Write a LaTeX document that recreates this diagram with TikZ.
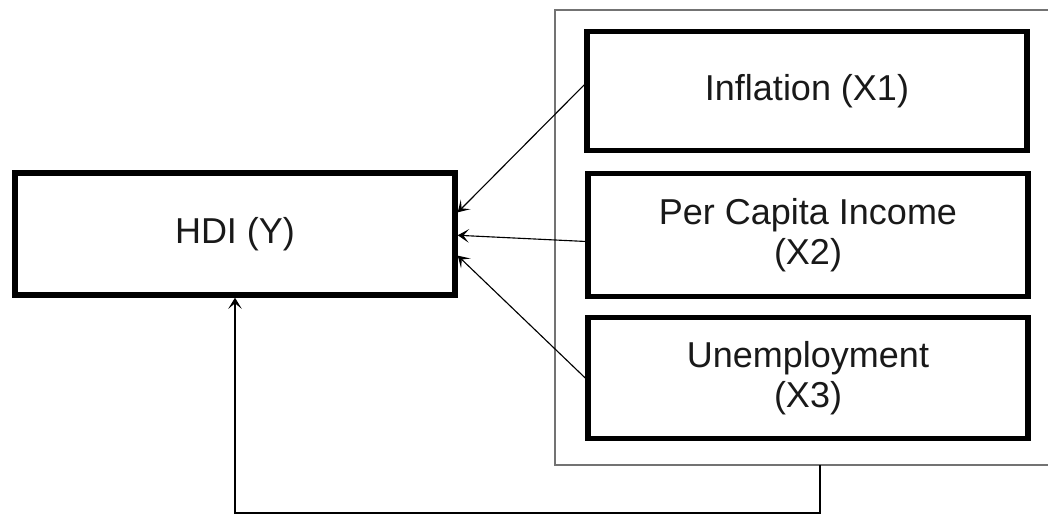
\documentclass[tikz,border=0pt]{standalone}
\usepackage{fontspec}
\setmainfont{Liberation Sans}
\usetikzlibrary{positioning, arrows.meta, calc}

\tikzset{varbox/.style={draw, line width=3.8pt, minimum width=11cm,
                        minimum height=3cm, align=center, text=black!90,
                        font=\fontsize{25.6}{28.5}\selectfont},
         link/.style={-{Stealth[length=2.8mm, width=3.4mm, inset=1.4mm]}, line width=0.8pt}}

\begin{document}
\begin{tikzpicture}[x=0.025cm, y=-0.025cm]
\useasboundingbox (0,0) rectangle (1048,515);
\clip (0,0) rectangle (1048,515);
% group of the independent variables
\draw[black!55, line width=1.2pt] (555,10) rectangle (1080,465);
\node[varbox, minimum height=2.97cm] (infl) at (807,91) {Inflation (X1)};
\node[varbox, minimum height=3.09cm] (inc) at (808,235) {Per Capita Income\\(X2)};
\node[varbox, minimum height=3.02cm] (unemp) at (808,378) {Unemployment\\(X3)};
% dependent variable
\node[varbox, minimum height=3.05cm] (hdi) at (235,234) {HDI (Y)};
\draw[link] ($(infl.north west)!0.45!(infl.south west)$) -- ($(hdi.north east)!0.33!(hdi.south east)$);
\draw[link] ($(inc.north west)!0.55!(inc.south west)$) -- ($(hdi.north east)!0.51!(hdi.south east)$);
\draw[link] (unemp.west) -- ($(hdi.north east)!0.67!(hdi.south east)$);
% joint effect
\coordinate (tap) at (820,465);
\draw[link] (tap) -- ++(0,48) -| (hdi.south);
\end{tikzpicture}
\end{document}
